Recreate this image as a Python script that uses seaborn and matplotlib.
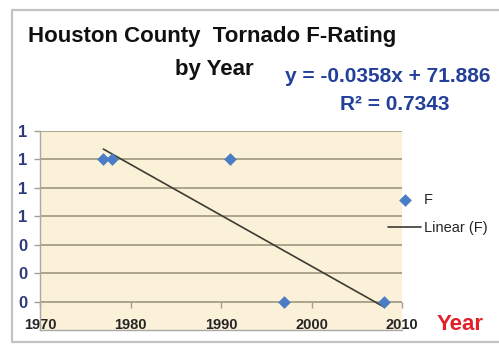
import matplotlib
matplotlib.use("Agg")
import matplotlib.pyplot as plt
from matplotlib.lines import Line2D
import seaborn as sns
import pandas as pd

# Tornado events in Houston County: year and F-scale rating
years = [1977, 1978, 1991, 1997, 2008]
f_rating = [1, 1, 1, 0, 0]

x_ticks = [1970, 1980, 1990, 2000, 2010]
y_ticks = [0.0, 0.2, 0.4, 0.6, 0.8, 1.0, 1.2]

title_line1 = "Houston County  Tornado F-Rating"
title_line2 = "by Year"
equation_text = "y = -0.0358x + 71.886"
r2_text = "R² = 0.7343"

sns.set_theme(style="white")
plt.rcParams["font.family"] = ["Liberation Sans", "DejaVu Sans"]

W, H = 499, 345
fig = plt.figure(figsize=(W / 100, H / 100), dpi=100)
fig.patch.set_facecolor("white")

# chart frame (Excel-style border running off the right edge)
frame_kw = dict(transform=fig.transFigure, color="#c4c4c4", linewidth=1.6)
fig.add_artist(Line2D([12 / W, 12 / W], [1 - 10 / H, 1 - 342 / H], **frame_kw))
fig.add_artist(Line2D([12 / W, 1.05], [1 - 10 / H, 1 - 10 / H], **frame_kw))
fig.add_artist(Line2D([12 / W, 1.05], [1 - 342 / H, 1 - 342 / H], **frame_kw))

ax = fig.add_axes([40 / W, (H - 330) / H, 362 / W, 199 / H])
ax.set_facecolor("#fbf0d8")

df = pd.DataFrame({"Year": years, "F": f_rating})

grid_color = "#a49f88"
blue = "#4a7dc4"

sns.scatterplot(data=df, x="Year", y="F", ax=ax, marker="D", s=42,
                color=blue, linewidth=0, label="F", zorder=4)
sns.regplot(data=df, x="Year", y="F", ax=ax, scatter=False, ci=None,
            label="Linear (F)",
            line_kws=dict(color="#3c3c32", linewidth=1.2, zorder=3))

ax.set_xlim(1970, 2010)
ax.set_ylim(-0.2, 1.2)
ax.set_xlabel("")
ax.set_ylabel("")

ax.set_yticks(y_ticks)
ax.set_yticklabels([f"{v:.0f}" for v in y_ticks])
ax.grid(axis="y", color=grid_color, linewidth=1.3)
ax.grid(axis="x", visible=False)
ax.tick_params(axis="y", length=4, width=1, color=grid_color, pad=5,
               labelsize=12, labelcolor="#2d3b78", left=True)
for lbl in ax.get_yticklabels():
    lbl.set_fontweight("bold")

for side in ("top", "right"):
    ax.spines[side].set_visible(False)
ax.spines["left"].set_color("#a8a8a8")
ax.spines["bottom"].set_color("#a8a8a8")
ax.spines["left"].set_linewidth(1.0)
ax.spines["bottom"].set_linewidth(1.0)
ax.tick_params(axis="x", bottom=False, labelbottom=False)

# year axis crossing at F = 0
sec = ax.secondary_xaxis(0.2 / 1.4)
sec.set_xticks(x_ticks)
sec.spines["bottom"].set_visible(False)
sec.tick_params(axis="x", length=4, width=1, color=grid_color, pad=8,
                labelsize=10.5, labelcolor="#262626")
for lbl in sec.get_xticklabels():
    lbl.set_fontweight("bold")

ax.legend(loc="upper left", bbox_to_anchor=(0.961, 0.69), frameon=False,
          borderpad=0, borderaxespad=0, handlelength=2.3, handletextpad=0.15,
          labelspacing=1.0, fontsize=10.5, labelcolor="#262626")

def px(x, y):
    return x / W, 1 - y / H

fig.text(*px(28, 42), title_line1, ha="left", va="baseline",
         fontsize=16, fontweight="bold", color="#111111")
fig.text(*px(175, 75), title_line2, ha="left", va="baseline",
         fontsize=16, fontweight="bold", color="#111111")
fig.text(*px(388, 82), equation_text, ha="center", va="baseline",
         fontsize=15, fontweight="bold", color="#22409a")
fig.text(*px(395, 110), r2_text, ha="center", va="baseline",
         fontsize=15, fontweight="bold", color="#22409a")
fig.text(*px(437, 330), "Year", ha="left", va="baseline",
         fontsize=16, fontweight="bold", color="#e3202a")

fig.savefig("out.png", dpi=100)
